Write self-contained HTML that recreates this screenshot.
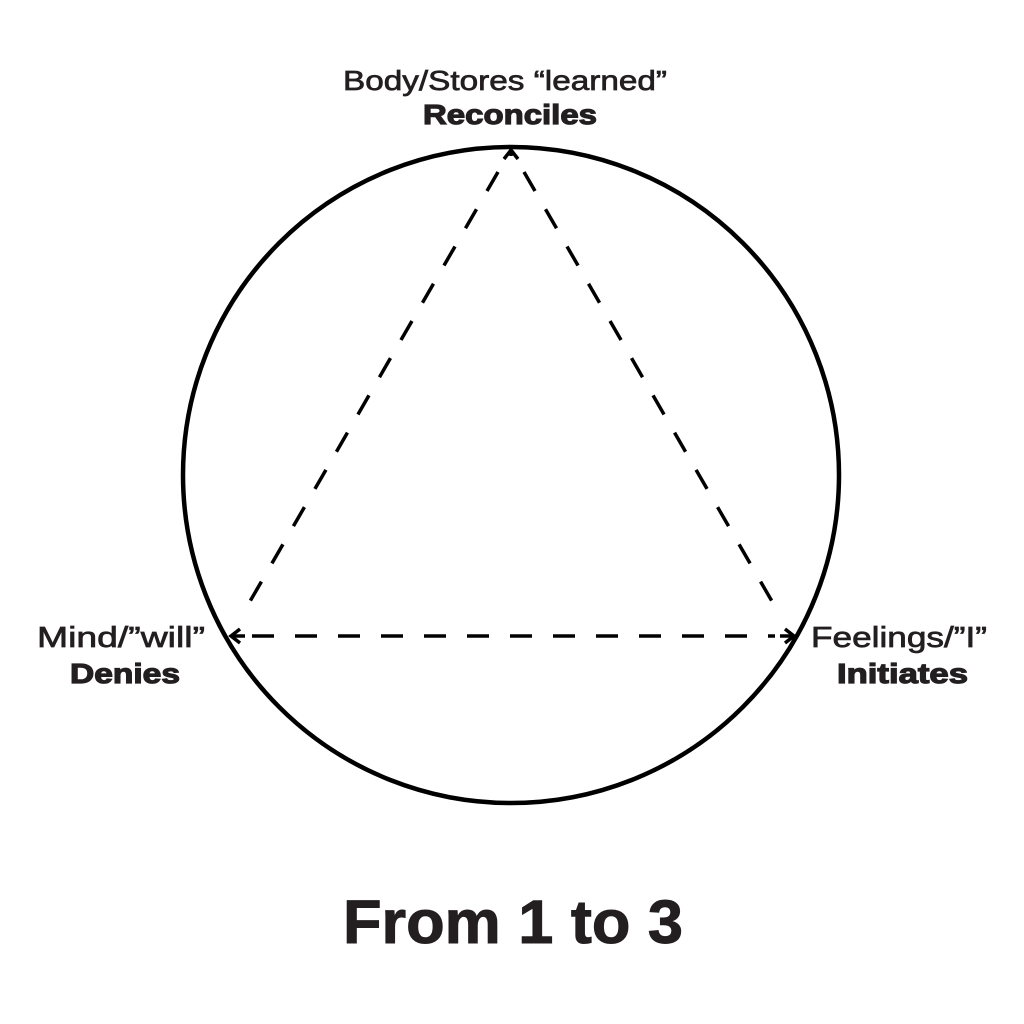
<!DOCTYPE html>
<html><head><meta charset="utf-8"><style>
html,body{margin:0;padding:0;background:#fff;}
svg{display:block;}
text{font-family:"Liberation Sans",sans-serif;fill:#231f20;stroke:#231f20;}
</style></head><body>
<svg width="1024" height="1024" viewBox="0 0 1024 1024" xmlns="http://www.w3.org/2000/svg">
<rect width="1024" height="1024" fill="#fff"/>
<circle cx="511" cy="475" r="328" fill="none" stroke="#000" stroke-width="4.5"/>
<g stroke="#000" stroke-width="3.5" fill="none" stroke-dasharray="22 21">
<line x1="498" y1="172" x2="245" y2="610"/>
<line x1="524" y1="172" x2="777" y2="610"/>
<line x1="252" y1="636" x2="775" y2="636"/>
</g>
<g stroke="#000" stroke-width="3.5" fill="none">
<polyline points="504,159 511,150 518,159"/>
<line x1="511" y1="151" x2="511" y2="156"/>
<polyline points="240,629 231,636 240,643"/>
<line x1="232" y1="636" x2="245" y2="636"/>
<polyline points="785,629 794,636 785,643"/>
<line x1="780" y1="636" x2="793" y2="636"/>
</g>
<text x="343" y="90" font-size="28" stroke-width="0.7" textLength="324" lengthAdjust="spacingAndGlyphs">Body/Stores “learned”</text>
<text x="423" y="124" font-size="28" font-weight="bold" stroke-width="1.2" textLength="174" lengthAdjust="spacingAndGlyphs">Reconciles</text>
<text x="37" y="647" font-size="29" stroke-width="0.7" textLength="168" lengthAdjust="spacingAndGlyphs">Mind/”will”</text>
<text x="70" y="683" font-size="28" font-weight="bold" stroke-width="1.2" textLength="110" lengthAdjust="spacingAndGlyphs">Denies</text>
<text x="811" y="647" font-size="29" stroke-width="0.7" textLength="176" lengthAdjust="spacingAndGlyphs">Feelings/”I”</text>
<text x="837" y="683" font-size="28" font-weight="bold" stroke-width="1.2" textLength="131" lengthAdjust="spacingAndGlyphs">Initiates</text>
<text x="343" y="943" font-size="61" font-weight="bold" stroke-width="1" textLength="340" lengthAdjust="spacingAndGlyphs">From 1 to 3</text>
</svg>
</body></html>
